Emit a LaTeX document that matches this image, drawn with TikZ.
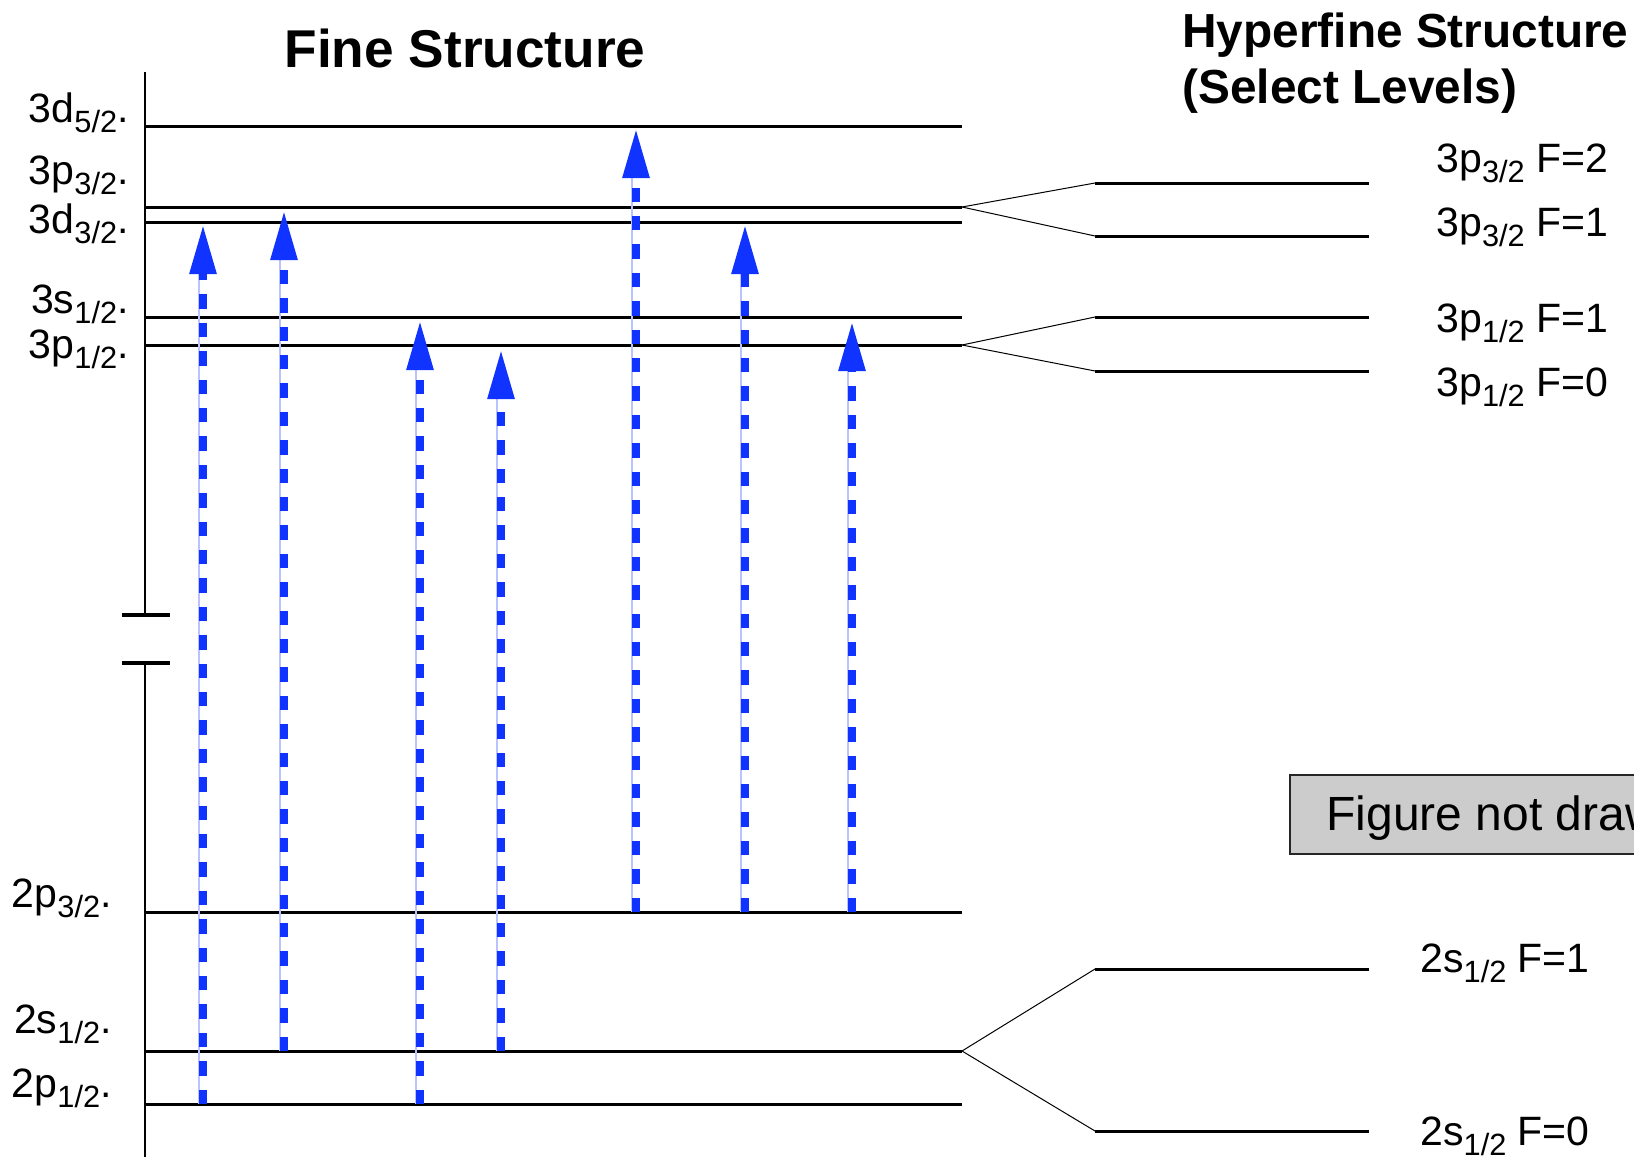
\documentclass[tikz,border=0pt]{standalone}
\usepackage{fontspec}
\setmainfont{Liberation Sans}
\usepackage{graphicx}
\usetikzlibrary{arrows.meta}
\definecolor{arrowblue}{RGB}{17,51,255}
\definecolor{guideblue}{RGB}{185,195,255}
\definecolor{boxgray}{RGB}{204,204,204}
\newcommand\lsub[1]{\raisebox{-0.26em}{\scalebox{0.75}{#1}}}
\begin{document}
\begin{tikzpicture}[x=0.5pt,y=-0.5pt,
  level/.style={line width=1.5pt},
  hfsline/.style={line width=1.5pt},
  splitline/.style={line width=0.5pt},
  axisline/.style={line width=1.4pt},
  breaktick/.style={line width=2.4pt},
  lab/.style={anchor=base east, inner sep=0pt, font=\fontsize{20.5}{21}\selectfont},
  hlab/.style={anchor=base west, inner sep=0pt, font=\fontsize{20.5}{21}\selectfont},
  trans/.style={arrowblue, line width=4.3pt, dash pattern=on 7.2pt off 7pt, -{Triangle[length=25pt,width=12.5pt]}},
  guide/.style={guideblue, line width=0.6pt}]
\useasboundingbox (0,0) rectangle (1634,1157);
\fill[white] (0,0) rectangle (1634,1157);

% titles
\node[anchor=base, inner sep=0pt, font=\bfseries\fontsize{26.6}{27}\selectfont] (fstitle) at (465,67) {Fine Structure};
\node[anchor=base west, inner sep=0pt, font=\bfseries\fontsize{23.9}{24}\selectfont] (hfstitle) at (1182,47) {Hyperfine Structure};
\node[anchor=base west, inner sep=0pt, font=\bfseries\fontsize{23.9}{24}\selectfont] (hfssub) at (1182,103) {(Select Levels)};

% energy axis with break
\coordinate (axtop) at (145,72);
\coordinate (axbrk1) at (145,615);
\coordinate (axbrk2) at (145,663);
\coordinate (axbot) at (145,1162);
\draw[axisline] (axtop) -- (axbrk1);
\draw[axisline] (axbrk2) -- (axbot);
\draw[breaktick] ([xshift=-11.5pt]axbrk1) -- ([xshift=12.5pt]axbrk1);
\draw[breaktick] ([xshift=-11.5pt]axbrk2) -- ([xshift=12.5pt]axbrk2);

% fine structure levels
\foreach \nm/\y in {d52/126, p32/207, d32/222, s12/317, p12/345, q32/912, t12/1051, q12/1104} {
  \coordinate (\nm L) at (145,\y);
  \coordinate (\nm R) at (962,\y);
  \draw[level] (\nm L) -- (\nm R);
}

% level labels
\node[lab] (lbd52) at (129,122) {3d\lsub{5/2}.};
\node[lab] (lbp32) at (129,184) {3p\lsub{3/2}.};
\node[lab] (lbd32) at (129,233) {3d\lsub{3/2}.};
\node[lab] (lbs12) at (129,313) {3s\lsub{1/2}.};
\node[lab] (lbp12) at (129,358) {3p\lsub{1/2}.};
\node[lab] (lbq32) at (112,907) {2p\lsub{3/2}.};
\node[lab] (lbt12) at (112,1033) {2s\lsub{1/2}.};
\node[lab] (lbq12) at (112,1097) {2p\lsub{1/2}.};

% hyperfine levels
\foreach \nm/\y in {ha/183, hb/236, hc/317, hd/371, he/969, hf/1131} {
  \coordinate (\nm L) at (1095,\y);
  \coordinate (\nm R) at (1369,\y);
  \draw[hfsline] (\nm L) -- (\nm R);
}
\draw[splitline] (p32R) -- (haL);
\draw[splitline] (p32R) -- (hbL);
\draw[splitline] (p12R) -- (hcL);
\draw[splitline] (p12R) -- (hdL);
\draw[splitline] (t12R) -- (heL);
\draw[splitline] (t12R) -- (hfL);

% hyperfine labels
\node[hlab] (hla) at (1436,172) {3p\lsub{3/2} F=2};
\node[hlab] (hlb) at (1436,236) {3p\lsub{3/2} F=1};
\node[hlab] (hlc) at (1436,332) {3p\lsub{1/2} F=1};
\node[hlab] (hld) at (1436,396) {3p\lsub{1/2} F=0};
\node[hlab] (hle) at (1420,972) {2s\lsub{1/2} F=1};
\node[hlab] (hlf) at (1420,1145) {2s\lsub{1/2} F=0};

% transitions
\foreach \n/\x/\ya/\yb in {1/203/1104/224, 2/284/1051/210, 3/420/1104/320, 4/501/1051/349, 5/636/912/128, 6/745/912/224, 7/852/912/321} {
  \coordinate (s\n) at (\x,\ya);
  \coordinate (e\n) at (\x,\yb);
  \draw[guide] ([xshift=-2pt]s\n) -- ([shift={(-4,48)}]e\n);
  \draw[trans] (s\n) -- (e\n);
}

% note box (cut by the picture edge, as in the original)
\begin{scope}
\clip (0,0) rectangle (1634,1157);
\draw[fill=boxgray, draw=black!85, line width=0.7pt] (1290,775) rectangle (1720,854);
\node[anchor=base west, inner sep=0pt, font=\fontsize{24}{24}\selectfont] (note) at (1326,830) {Figure not drawn to scale};
\end{scope}
\end{tikzpicture}
\end{document}
